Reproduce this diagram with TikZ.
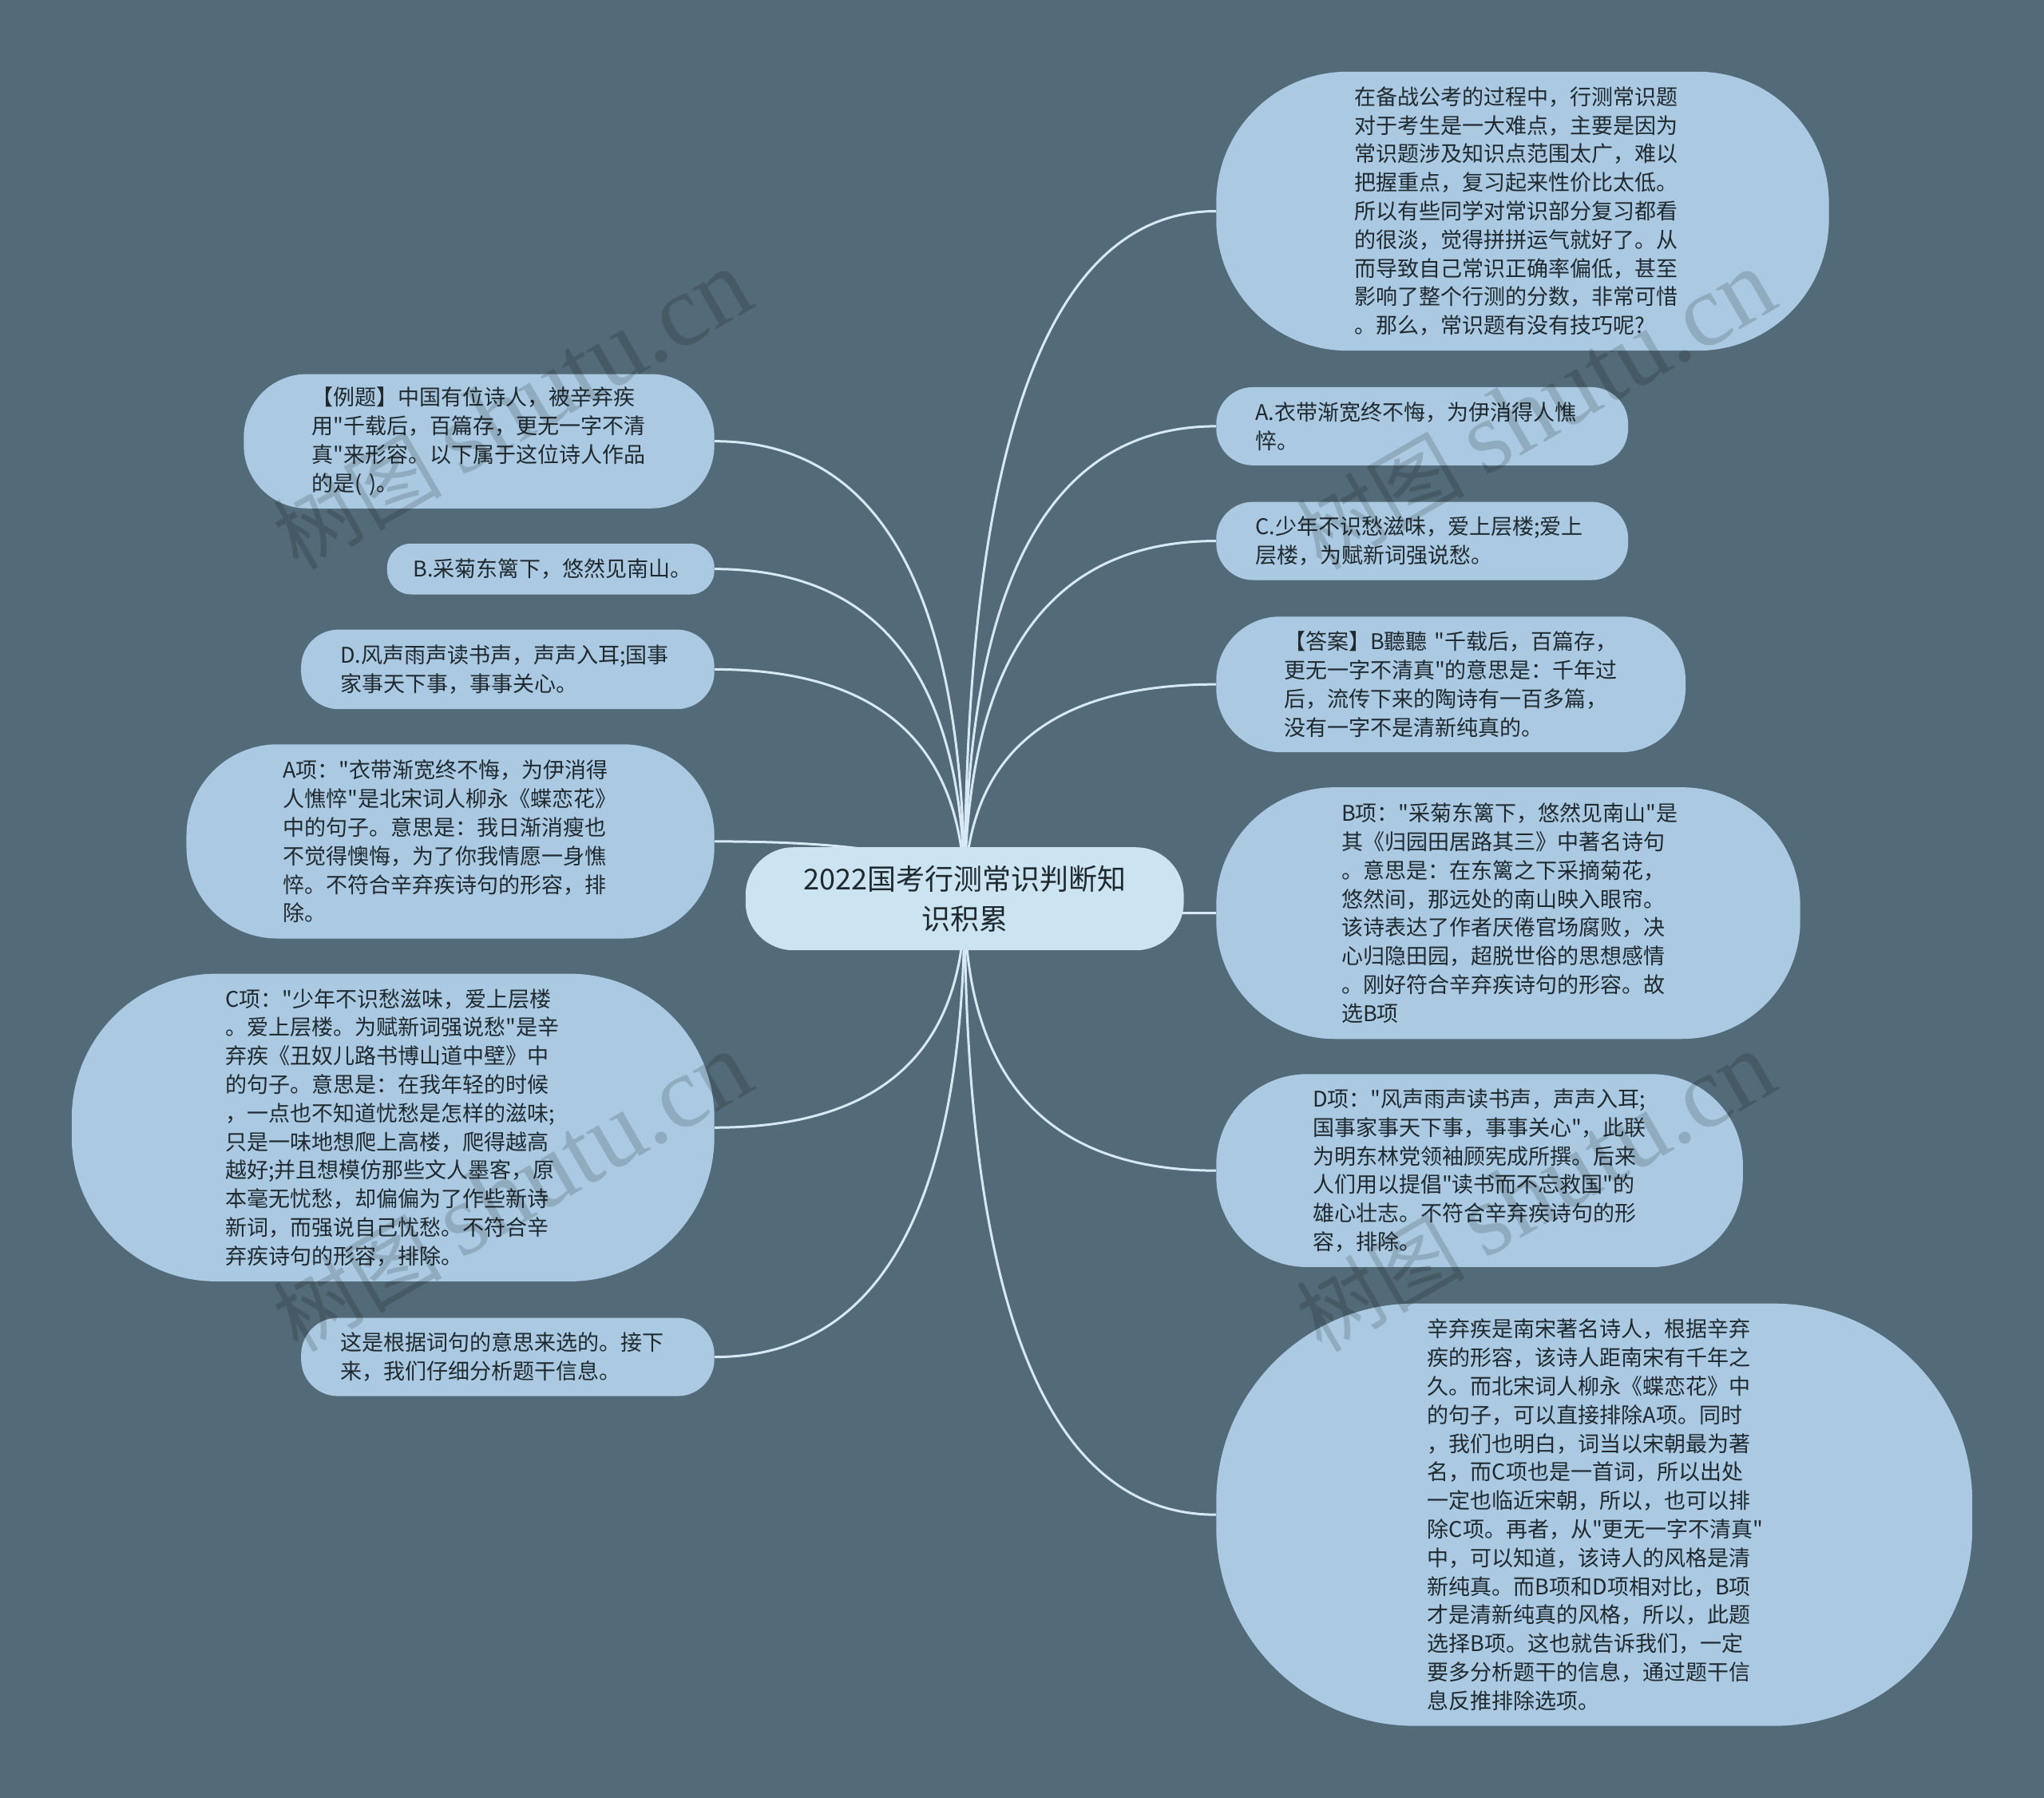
\documentclass[tikz,border=0pt]{standalone}
\usepackage{fontspec}
\setmainfont{Noto Sans CJK SC}[Ligatures=TeXOff]
\newfontfamily\wmlatin{Liberation Serif}[Ligatures=TeXOff]
\usetikzlibrary{calc,backgrounds}
\definecolor{pagebg}{HTML}{536A79}
\definecolor{leaffill}{HTML}{ABC9E0}
\definecolor{rootfill}{HTML}{CCE4F2}
\definecolor{edgecol}{HTML}{D6E9F4}
\definecolor{inkcol}{HTML}{1F2A30}
\tikzset{
  leafbox/.style={fill=leaffill,text=inkcol,inner sep=0pt,align=left,
    font=\fontsize{13.5pt}{17.9pt}\selectfont},
  rootbox/.style={fill=rootfill,text=inkcol,inner sep=0pt,align=center,
    font=\fontsize{18pt}{24.6pt}\selectfont},
  edgeline/.style={draw=edgecol,line width=1.5pt},
  watermark/.style={rotate=30,text=black,text opacity=0.15,inner sep=0pt,
    font=\fontsize{53pt}{60pt}\selectfont}
}
\newcommand{\mmleaf}[7]{%
  \pgfmathsetmacro{\mmw}{(#4-#2)*0.81633}%
  \pgfmathsetmacro{\mmh}{(#5-#3)*0.81633}%
  \pgfmathsetmacro{\mmt}{((#2+#4)-2*#6)*0.81633}%
  \pgfmathsetmacro{\mmr}{\mmh*0.47}%
  \node[leafbox,minimum width=\mmw pt,minimum height=\mmh pt,text width=\mmt pt,rounded corners=\mmr pt]
    (#1) at ({(#2+#4)/2},{(#3+#5)/2}) {#7};}
\newcommand{\mmconn}[2]{%
  \draw[edgeline] (root.center)
    .. controls ($(root.center)!0.6667!(root.center |- #1.#2)$)
    and ($(#1.#2)!0.6667!(root.center |- #1.#2)$) .. (#1.#2);}
\newcommand{\mmmark}{树图 {\wmlatin\fontsize{64pt}{70pt}\selectfont shutu.cn}}
\begin{document}
\begin{tikzpicture}[x=0.81633pt,y=-0.81633pt]
\useasboundingbox (0,0) rectangle (1568,1379.3);
\node[rootbox,minimum width=274.4pt,minimum height=64.5pt,text width=240pt,rounded corners=30pt] (root) at (740,689.5)
  {2022国考行测常识判断知\\识积累};
\mmleaf{lA}{187}{287}{548}{390}{239}{【例题】中国有位诗人，被辛弃疾\\用"千载后，百篇存，更无一字不清\\真"来形容。以下属于这位诗人作品\\的是( )。}
\mmleaf{lB}{297}{417}{548}{456}{317}{B.采菊东篱下，悠然见南山。}
\mmleaf{lC}{231}{483}{548}{544}{261}{D.风声雨声读书声，声声入耳;国事\\家事天下事，事事关心。}
\mmleaf{lD}{143}{571}{548}{720}{217}{A项："衣带渐宽终不悔，为伊消得\\人憔悴"是北宋词人柳永《蝶恋花》\\中的句子。意思是：我日渐消瘦也\\不觉得懊悔，为了你我情愿一身憔\\悴。不符合辛弃疾诗句的形容，排\\除。}
\mmleaf{lE}{55}{747}{548}{983}{173}{C项："少年不识愁滋味，爱上层楼\\。爱上层楼。为赋新词强说愁"是辛\\弃疾《丑奴儿路书博山道中壁》中\\的句子。意思是：在我年轻的时候\\，一点也不知道忧愁是怎样的滋味;\\只是一味地想爬上高楼，爬得越高\\越好;并且想模仿那些文人墨客，原\\本毫无忧愁，却偏偏为了作些新诗\\新词，而强说自己忧愁。不符合辛\\弃疾诗句的形容，排除。}
\mmleaf{lF}{231}{1011}{548}{1071}{261}{这是根据词句的意思来选的。接下\\来，我们仔细分析题干信息。}
\mmleaf{rA}{933}{55}{1403}{269}{1039}{在备战公考的过程中，行测常识题\\对于考生是一大难点，主要是因为\\常识题涉及知识点范围太广，难以\\把握重点，复习起来性价比太低。\\所以有些同学对常识部分复习都看\\的很淡，觉得拼拼运气就好了。从\\而导致自己常识正确率偏低，甚至\\影响了整个行测的分数，非常可惜\\。那么，常识题有没有技巧呢?}
\mmleaf{rB}{933}{297}{1249}{357}{963}{A.衣带渐宽终不悔，为伊消得人憔\\悴。}
\mmleaf{rC}{933}{385}{1249}{445}{963}{C.少年不识愁滋味，爱上层楼;爱上\\层楼，为赋新词强说愁。}
\mmleaf{rD}{933}{473}{1293}{577}{985}{【答案】B聽聽~"千载后，百篇存，\\更无一字不清真"的意思是：千年过\\后，流传下来的陶诗有一百多篇，\\没有一字不是清新纯真的。}
\mmleaf{rE}{933}{604}{1381}{797}{1029}{B项："采菊东篱下，悠然见南山"是\\其《归园田居路其三》中著名诗句\\。意思是：在东篱之下采摘菊花，\\悠然间，那远处的南山映入眼帘。\\该诗表达了作者厌倦官场腐败，决\\心归隐田园，超脱世俗的思想感情\\。刚好符合辛弃疾诗句的形容。故\\选B项}
\mmleaf{rF}{933}{824}{1337}{972}{1007}{D项："风声雨声读书声，声声入耳;\\国事家事天下事，事事关心"，此联\\为明东林党领袖顾宪成所撰。后来\\人们用以提倡"读书而不忘救国"的\\雄心壮志。不符合辛弃疾诗句的形\\容，排除。}
\mmleaf{rG}{933}{1000}{1513}{1324}{1095}{辛弃疾是南宋著名诗人，根据辛弃\\疾的形容，该诗人距南宋有千年之\\久。而北宋词人柳永《蝶恋花》中\\的句子，可以直接排除A项。同时\\，我们也明白，词当以宋朝最为著\\名，而C项也是一首词，所以出处\\一定也临近宋朝，所以，也可以排\\除C项。再者，从"更无一字不清真"\\中，可以知道，该诗人的风格是清\\新纯真。而B项和D项相对比，B项\\才是清新纯真的风格，所以，此题\\选择B项。这也就告诉我们，一定\\要多分析题干的信息，通过题干信\\息反推排除选项。}
\begin{pgfonlayer}{background}
  \fill[pagebg] (0,0) rectangle (1568,1379.3);
  \mmconn{lA}{east}\mmconn{lB}{east}\mmconn{lC}{east}\mmconn{lD}{east}\mmconn{lE}{east}\mmconn{lF}{east}
  \mmconn{rA}{west}\mmconn{rB}{west}\mmconn{rC}{west}\mmconn{rD}{west}\mmconn{rE}{west}\mmconn{rF}{west}\mmconn{rG}{west}
\end{pgfonlayer}
\node[watermark] (wm1) at (393,315) {\mmmark};
\node[watermark] (wm2) at (1178,315) {\mmmark};
\node[watermark] (wm3) at (393,915) {\mmmark};
\node[watermark] (wm4) at (1178,915) {\mmmark};
\end{tikzpicture}
\end{document}
